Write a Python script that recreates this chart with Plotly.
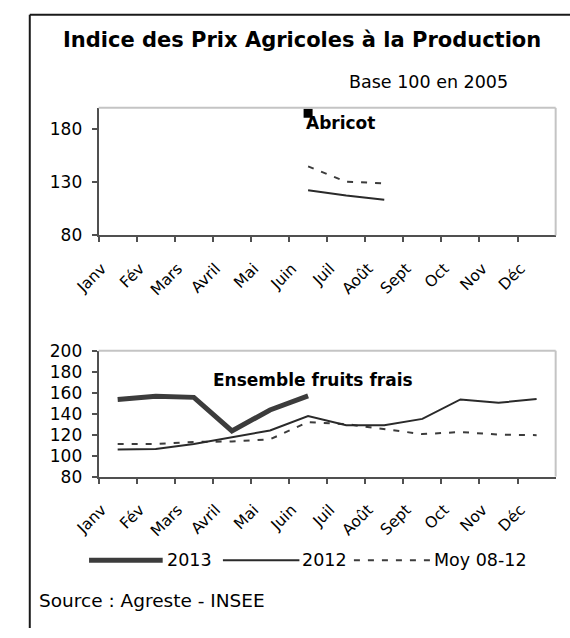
import plotly.graph_objects as go

W, H = 570, 638

months = ["Janv", "Fév", "Mars", "Avril", "Mai", "Juin", "Juil", "Août", "Sept", "Oct", "Nov", "Déc"]

# Abricot (top panel)
abricot_2013 = [None, None, None, None, None, 195, None, None, None, None, None, None]
abricot_2012 = [None, None, None, None, None, 122.5, 117.5, 113.5, None, None, None, None]
abricot_moy = [None, None, None, None, None, 145, 130.5, 129, None, None, None, None]

# Ensemble fruits frais (bottom panel)
fruits_2013 = [153.5, 156.5, 155.5, 123.5, 143.5, 157, None, None, None, None, None, None]
fruits_2012 = [105.8, 106.3, 111, 117.3, 124, 137.7, 129, 129, 135, 153.5, 150.3, 154]
fruits_moy = [111, 111, 113, 113.5, 115.5, 132, 130, 125.5, 120.5, 122.5, 120, 119.5]

top_yticks = [80, 130, 180]
bottom_yticks = [80, 100, 120, 140, 160, 180, 200]

FONT = "DejaVu Sans"
C13 = "#3c3c3c"
C12 = "#2a2a2a"
CMOY = "#3c3c3c"
AXC = "#505050"
DASH = "6px,8px"


def px(x):
    return x / W


def py(y):
    return 1 - y / H


fig = go.Figure()

# top panel
fig.add_trace(go.Scatter(x=months, y=abricot_2012, mode="lines", line=dict(color=C12, width=2),
                         xaxis="x", yaxis="y", showlegend=False))
fig.add_trace(go.Scatter(x=months, y=abricot_moy, mode="lines", line=dict(color=CMOY, width=2, dash=DASH),
                         xaxis="x", yaxis="y", showlegend=False))
fig.add_trace(go.Scatter(x=months, y=abricot_2013, mode="lines+markers",
                         line=dict(color=C13, width=5),
                         marker=dict(symbol="square", size=9, color="#000000"),
                         xaxis="x", yaxis="y", showlegend=False))

# bottom panel
fig.add_trace(go.Scatter(x=months, y=fruits_moy, mode="lines", line=dict(color=CMOY, width=2, dash=DASH),
                         xaxis="x2", yaxis="y2", showlegend=False))
fig.add_trace(go.Scatter(x=months, y=fruits_2012, mode="lines", line=dict(color=C12, width=2),
                         xaxis="x2", yaxis="y2", showlegend=False))
fig.add_trace(go.Scatter(x=months, y=fruits_2013, mode="lines", line=dict(color=C13, width=5),
                         xaxis="x2", yaxis="y2", showlegend=False))

xdom = [px(77), px(555)]
xcommon = dict(type="category", categoryorder="array", categoryarray=months,
               range=[-0.5, 11.5], tickson="boundaries", ticks="outside", ticklen=5,
               tickcolor=AXC, tickwidth=1.5, showline=True, linecolor=AXC, linewidth=2,
               showgrid=False, zeroline=False, tickangle=-45,
               ticklabelshift=-16, ticklabelstandoff=16,
               tickfont=dict(family=FONT, size=15.5, color="#000000"), fixedrange=True)
ycommon = dict(range=[80, 200], ticks="outside", ticklen=5, tickcolor=AXC, tickwidth=1.5,
               showline=True, linecolor=AXC, linewidth=2, showgrid=False, zeroline=False,
               ticklabelstandoff=6,
               tickfont=dict(family=FONT, size=17, color="#000000"), fixedrange=True)

fig.update_layout(
    width=W, height=H,
    margin=dict(l=0, r=0, t=0, b=0),
    paper_bgcolor="white", plot_bgcolor="white",
    showlegend=False,
    xaxis=dict(domain=xdom, anchor="y", **xcommon),
    yaxis=dict(domain=[py(232.7), py(101)], anchor="x", tickvals=top_yticks, **ycommon),
    xaxis2=dict(domain=xdom, anchor="y2", **xcommon),
    yaxis2=dict(domain=[py(481.7), py(351.7)], anchor="x2", tickvals=bottom_yticks, **ycommon),
)

shapes = []
# plot-area light grey top/right borders
for xa, ya in (("x", "y"), ("x2", "y2")):
    shapes.append(dict(type="line", xref=f"{xa} domain", yref=f"{ya} domain", x0=0, x1=1, y0=1, y1=1,
                       line=dict(color="#c4c4c4", width=2)))
    shapes.append(dict(type="line", xref=f"{xa} domain", yref=f"{ya} domain", x0=1, x1=1, y0=0, y1=1,
                       line=dict(color="#c4c4c4", width=2)))
# outer frame (top and left only)
shapes.append(dict(type="line", xref="paper", yref="paper", x0=px(5), x1=1, y0=py(5), y1=py(5),
                   line=dict(color="#1a1a1a", width=2)))
shapes.append(dict(type="line", xref="paper", yref="paper", x0=px(5), x1=px(5), y0=py(5), y1=0,
                   line=dict(color="#1a1a1a", width=2)))
# legend samples
LY = 568
shapes.append(dict(type="line", xref="paper", yref="paper", x0=px(67), x1=px(144), y0=py(LY), y1=py(LY),
                   line=dict(color=C13, width=5)))
shapes.append(dict(type="line", xref="paper", yref="paper", x0=px(207), x1=px(287), y0=py(LY), y1=py(LY),
                   line=dict(color=C12, width=2)))
shapes.append(dict(type="line", xref="paper", yref="paper", x0=px(344), x1=px(425), y0=py(LY), y1=py(LY),
                   line=dict(color=CMOY, width=2, dash=DASH)))
fig.update_layout(shapes=shapes)

ann = []


def text(x, y, s, size, bold=False, xanchor="left"):
    ann.append(dict(x=px(x), y=py(y), xref="paper", yref="paper", text=f"<b>{s}</b>" if bold else s,
                    showarrow=False, xanchor=xanchor, yanchor="middle",
                    font=dict(family=FONT, size=size, color="#000000")))


text(290, 31, "Indice des Prix Agricoles à la Production", 21, bold=True, xanchor="center")
text(422, 74, "Base 100 en 2005", 17.5, xanchor="center")
text(292, 117, "Abricot", 17, bold=True)
text(195, 382, "Ensemble fruits frais", 17, bold=True)
text(146, LY, "2013", 17.5)
text(288, LY, "2012", 17.5)
text(426, LY, "Moy 08-12", 17.5)
text(13, 610, "Source : Agreste - INSEE", 18.5)
fig.update_layout(annotations=ann)

fig.write_html("out.html", config={"displayModeBar": False},
               post_script="document.body.style.margin='0';document.body.style.overflow='hidden';")
